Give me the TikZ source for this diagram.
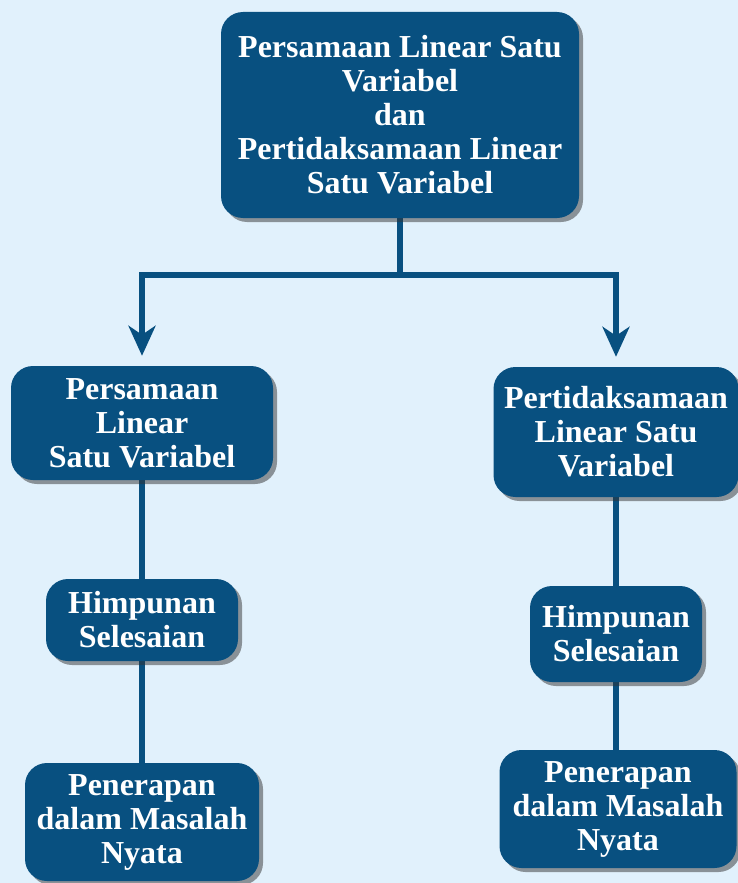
\documentclass[tikz,border=0pt]{standalone}
\usepackage{fontspec}
\setmainfont{Liberation Serif}
\usetikzlibrary{arrows.meta,shadows,backgrounds,positioning}
\definecolor{plsvbg}{RGB}{225,241,252}
\definecolor{plsvblue}{RGB}{8,80,128}
\begin{document}
\begin{tikzpicture}[
  x=1pt, y=-1pt,
  plsvbox/.style = {rounded corners=22pt, fill=plsvblue, text=white, align=center,
    font=\fontsize{32}{34}\selectfont\bfseries, inner sep=0pt,
    drop shadow={shadow xshift=4pt, shadow yshift=-4pt, opacity=0.5, fill=black!80}},
  plsvline/.style = {line width=6pt, plsvblue},
  plsvarrow/.style = {plsvline, -{Stealth[length=30pt,width=27pt,inset=9pt]}, shorten >=10pt}
]
  \useasboundingbox (0,0) rectangle (738,883);
  % kotak utama
  \node[plsvbox, minimum width=358pt, minimum height=206pt] (top) at (400,115)
    {Persamaan Linear Satu\\Variabel\\dan\\Pertidaksamaan Linear\\Satu Variabel};
  % cabang kiri
  \node[plsvbox, minimum width=262pt, minimum height=114pt] (l1) at (142,423)
    {Persamaan\\Linear\\Satu Variabel};
  \node[plsvbox, minimum width=192pt, minimum height=82pt] (l2) at (142,620)
    {Himpunan\\Selesaian};
  \node[plsvbox, minimum width=234pt, minimum height=118pt] (l3) at (142,822)
    {Penerapan\\dalam Masalah\\Nyata};
  % cabang kanan
  \node[plsvbox, minimum width=245pt, minimum height=130pt] (r1) at (616,432)
    {Pertidaksamaan\\Linear Satu\\Variabel};
  \node[plsvbox, minimum width=172pt, minimum height=96pt] (r2) at (616,634)
    {Himpunan\\Selesaian};
  \node[plsvbox, minimum width=237pt, minimum height=118pt] (r3) at (618,809)
    {Penerapan\\dalam Masalah\\Nyata};
  \coordinate (split) at (400,275);
  \begin{pgfonlayer}{background}
    \fill[plsvbg] (0,0) rectangle (738,883);
    % garis penghubung
    \draw[plsvline] (top) -- (split);
    \draw[plsvarrow] (split) -| (l1.north);
    \draw[plsvarrow] (split) -| (r1.north);
    \draw[plsvline] (l1) -- (l2) -- (l3);
    \draw[plsvline] (r1) -- (r2) -- (r1 |- r3.north);
  \end{pgfonlayer}
\end{tikzpicture}
\end{document}
